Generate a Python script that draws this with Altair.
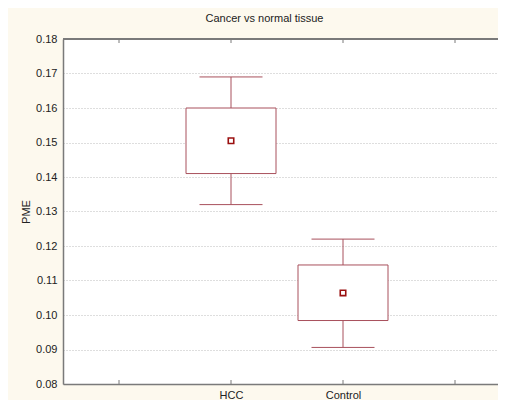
import altair as alt
import pandas as pd

# ---- data ----
categories = ["HCC", "Control"]
positions = [2, 3]
whisker_low = [0.132, 0.0906]
box_low = [0.141, 0.0984]
center = [0.1505, 0.1064]
box_high = [0.160, 0.1145]
whisker_high = [0.169, 0.122]

x_tick_positions = [1, 2, 3, 4]
y_tick_values = [0.08, 0.09, 0.10, 0.11, 0.12, 0.13, 0.14, 0.15, 0.16, 0.17, 0.18]

# ---- layout ----
W, H = 435, 345
BOX_HALF = 45 / 112
CAP_HALF = 31.5 / 112
BOX_COLOR = "#a8505c"
MARK_COLOR = "#9a1010"
AXIS_COLOR = "#7a7a7a"
FONT = "Liberation Sans"

df = pd.DataFrame({
    "cat": categories,
    "pos": positions,
    "wlo": whisker_low,
    "q1": box_low,
    "mid": center,
    "q3": box_high,
    "whi": whisker_high,
})
df["box_l"] = df["pos"] - BOX_HALF
df["box_r"] = df["pos"] + BOX_HALF
df["cap_l"] = df["pos"] - CAP_HALF
df["cap_r"] = df["pos"] + CAP_HALF

ticks_df = pd.DataFrame({"pos": x_tick_positions})

xscale = alt.Scale(domain=[0.5, 0.5 + W / 112], nice=False, zero=False)
yscale = alt.Scale(domain=[0.08, 0.18], nice=False, zero=False)

label_expr = "datum.value == 2 ? 'HCC' : datum.value == 3 ? 'Control' : ''"

x_axis = alt.Axis(
    values=x_tick_positions, labelExpr=label_expr, title=None, grid=False,
    ticks=False, domainColor=AXIS_COLOR, domainWidth=1.5,
    labelFont=FONT, labelFontSize=11, labelColor="#222", labelPadding=5,
    labelOverlap=False,
)
y_axis = alt.Axis(
    values=y_tick_values, format=".2f", title="PME", grid=True,
    gridDash=[1, 2], gridColor="#bdbdbd", gridWidth=1,
    ticks=False, domainColor=AXIS_COLOR, domainWidth=1.5,
    labelFont=FONT, labelFontSize=11, labelColor="#222", labelPadding=6,
    labelOverlap=False, labelBound=False,
    titleFont=FONT, titleFontSize=11, titleFontWeight="normal", titleColor="#222",
    titlePadding=4,
)


def X(field):
    return alt.X(field, type="quantitative", scale=xscale, axis=x_axis)


def Y(field):
    return alt.Y(field, type="quantitative", scale=yscale, axis=y_axis)


base = alt.Chart(df)

whiskers = base.mark_rule(color=BOX_COLOR, strokeWidth=1).encode(
    x=X("pos"), y=Y("wlo"), y2="whi:Q",
)
cap_lo = base.mark_rule(color=BOX_COLOR, strokeWidth=1).encode(
    x=X("cap_l"), x2="cap_r:Q", y=Y("wlo")
)
cap_hi = base.mark_rule(color=BOX_COLOR, strokeWidth=1).encode(
    x=X("cap_l"), x2="cap_r:Q", y=Y("whi")
)
boxes = base.mark_rect(fill="white", stroke=BOX_COLOR, strokeWidth=1).encode(
    x=X("box_l"), x2="box_r:Q", y=Y("q1"), y2="q3:Q"
)
marker = base.mark_point(
    shape="square", size=30, filled=False, fill="white",
    stroke=MARK_COLOR, strokeWidth=1.6, opacity=1,
).encode(x=X("pos"), y=Y("mid"))

top_border = alt.Chart(ticks_df).mark_rule(color=AXIS_COLOR, strokeWidth=1.5).encode(
    x=alt.value(0), x2=alt.value(W), y=alt.value(0)
)
bottom_ticks = alt.Chart(ticks_df).mark_rule(color=AXIS_COLOR, strokeWidth=1).encode(
    x=X("pos"), y=alt.value(H), y2=alt.value(H - 4)
)
top_ticks = alt.Chart(ticks_df).mark_rule(color=AXIS_COLOR, strokeWidth=1).encode(
    x=X("pos"), y=alt.value(0), y2=alt.value(4)
)

chart = alt.layer(
    whiskers, cap_lo, cap_hi, boxes, marker, top_border, bottom_ticks, top_ticks
).properties(
    width=W,
    height=H,
    background="#fdf9ee",
    padding={"left": 55, "top": 31, "right": 0, "bottom": 16},
    autosize=alt.AutoSizeParams(type="none"),
    title=alt.TitleParams(
        "Cancer vs normal tissue", font=FONT, fontSize=11, fontWeight="normal",
        color="#222", anchor="middle", dx=-16, offset=9,
    ),
).configure_view(fill="white", strokeWidth=0)

chart.save("out.html", embed_options={"renderer": "svg", "actions": False})
